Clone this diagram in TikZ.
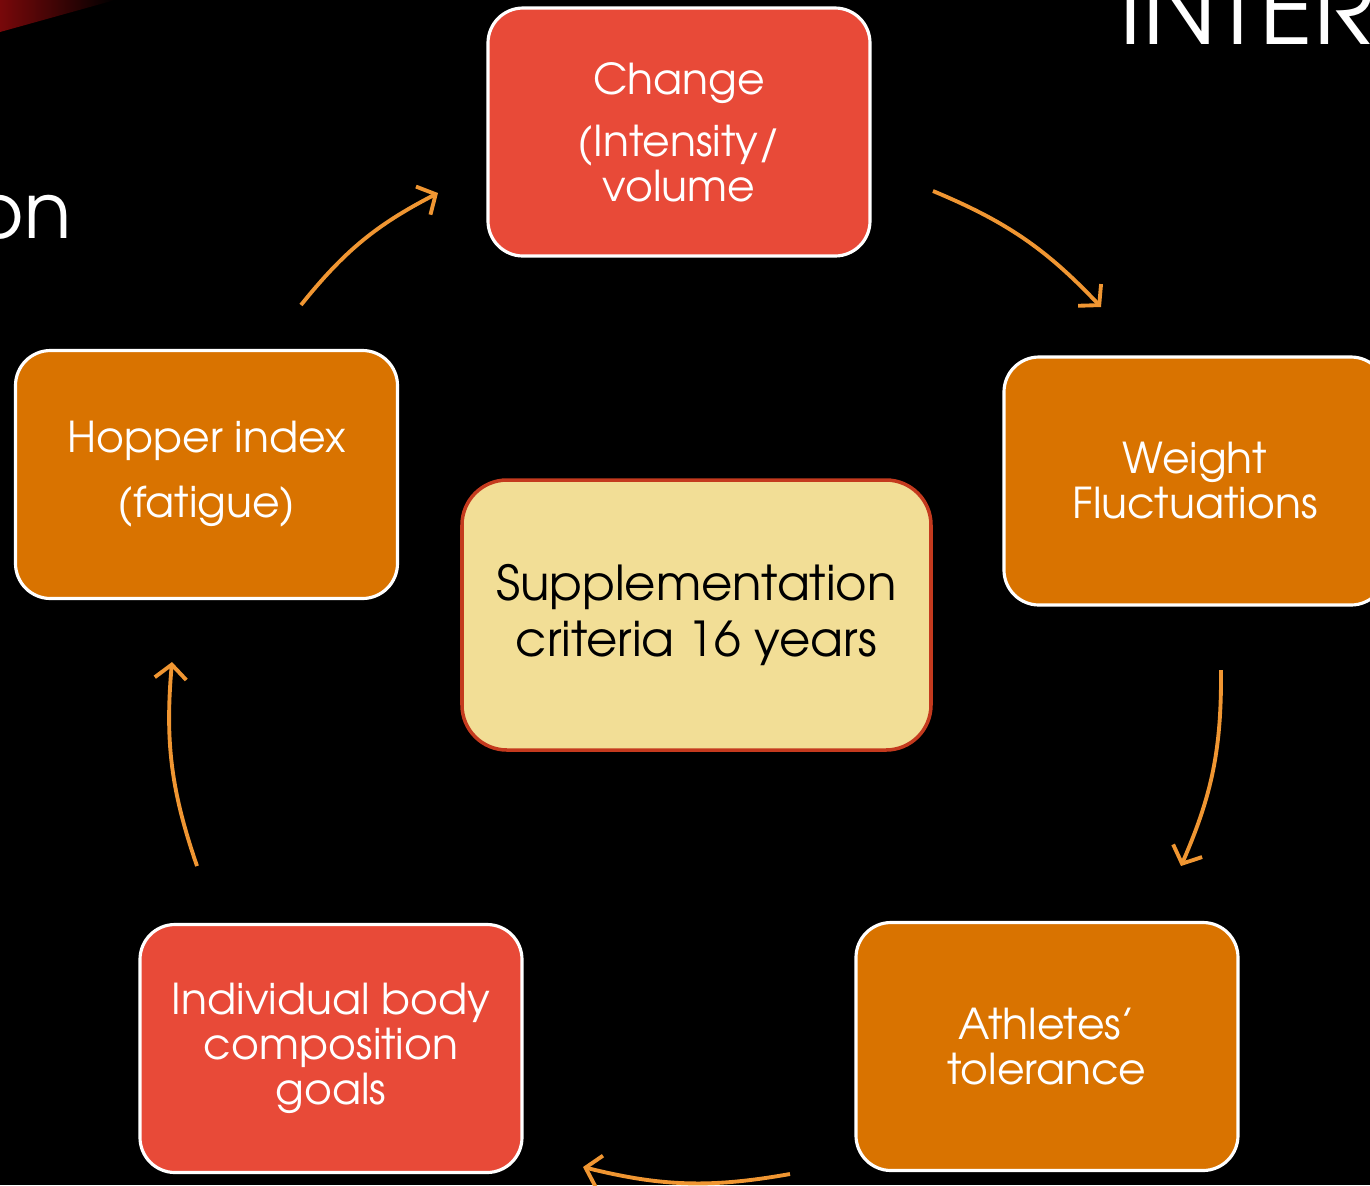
\documentclass[tikz,border=0pt]{standalone}
\usepackage{fontspec}
\setmainfont{TeX Gyre Adventor}
\usepackage{xcolor}
\definecolor{SlideRed}{RGB}{232,74,56}
\definecolor{SlideOrange}{RGB}{217,115,0}
\definecolor{SlideCream}{RGB}{242,222,150}
\definecolor{SlideRim}{RGB}{196,58,30}
\definecolor{CycOrange}{RGB}{240,150,50}
\definecolor{StreakRed}{RGB}{120,8,10}
\usetikzlibrary{arrows.meta}

\begin{document}
\begin{tikzpicture}[
    phase_box/.style={rectangle, rounded corners=0.35cm, draw=white, line width=0.9pt, minimum width=3.82cm, minimum height=2.48cm, text=white, align=center, font=\fontsize{12.1}{12.8}\selectfont},
    phase_red/.style={phase_box, fill=SlideRed},
    phase_orange/.style={phase_box, fill=SlideOrange},
    core_box/.style={rectangle, rounded corners=0.45cm, draw=SlideRim, line width=1pt, fill=SlideCream, minimum width=4.69cm, minimum height=2.70cm, align=center, font=\fontsize{13.7}{16.2}\selectfont},
    cycle_arrow/.style={-{Straight Barb[length=4pt,width=9pt]}, CycOrange, line width=1.1pt, bend left=12},
    slide_title/.style={text=white, inner sep=0pt, font=\fontsize{22}{24}\selectfont}
]

    % 1. SLIDE BACKGROUND
    \useasboundingbox (0,0) rectangle (13.7,-11.85);
    \clip (0,0) rectangle (13.7,-11.85);
    \fill[black] (0,0) rectangle (13.7,-11.85);
    \shade[left color=StreakRed, right color=black] (0,0) -- (1.15,0) -- (0,-0.32) -- cycle;

    % 2. TITLE FRAGMENTS
    \node[slide_title, anchor=base east] (sidetext) at (0.72,-2.38) {on};
    \node[slide_title, anchor=base west, font=\fontsize{28.6}{30}\selectfont] (heading) at (11.19,-0.44) {INTER};

    % 3. THE CYCLE
    \node[phase_red] (change) at (6.79,-1.32) {Change\\[0.17cm](Intensity/\\volume};
    \node[phase_orange] (weight) at (11.95,-4.81) {Weight\\Fluctuations};
    \node[phase_orange] (tolerance) at (10.47,-10.465) {Athletes’\\tolerance};
    \node[phase_red] (goals) at (3.31,-10.485) {Individual body\\composition\\goals};
    \node[phase_orange] (hopper) at (2.065,-4.745) {Hopper index\\[0.2cm](fatigue)};

    % 4. CENTRE
    \node[core_box] (core) at (6.965,-6.15) {Supplementation\\criteria 16 years};

    % 5. ARROWS BETWEEN STEPS
    \coordinate (a1s) at (3.01,-3.05);  \coordinate (a1e) at (4.38,-1.93);
    \coordinate (a2s) at (9.33,-1.91);  \coordinate (a2e) at (11.01,-3.07);
    \coordinate (a3s) at (12.21,-6.70); \coordinate (a3e) at (11.81,-8.66);
    \coordinate (a4s) at (7.90,-11.74); \coordinate (a4e) at (5.83,-11.67);
    \coordinate (a5s) at (1.97,-8.66);  \coordinate (a5e) at (1.72,-6.62);
    \foreach \i in {1,...,5} {
        \draw[cycle_arrow] (a\i s) to (a\i e);
    }

\end{tikzpicture}
\end{document}
